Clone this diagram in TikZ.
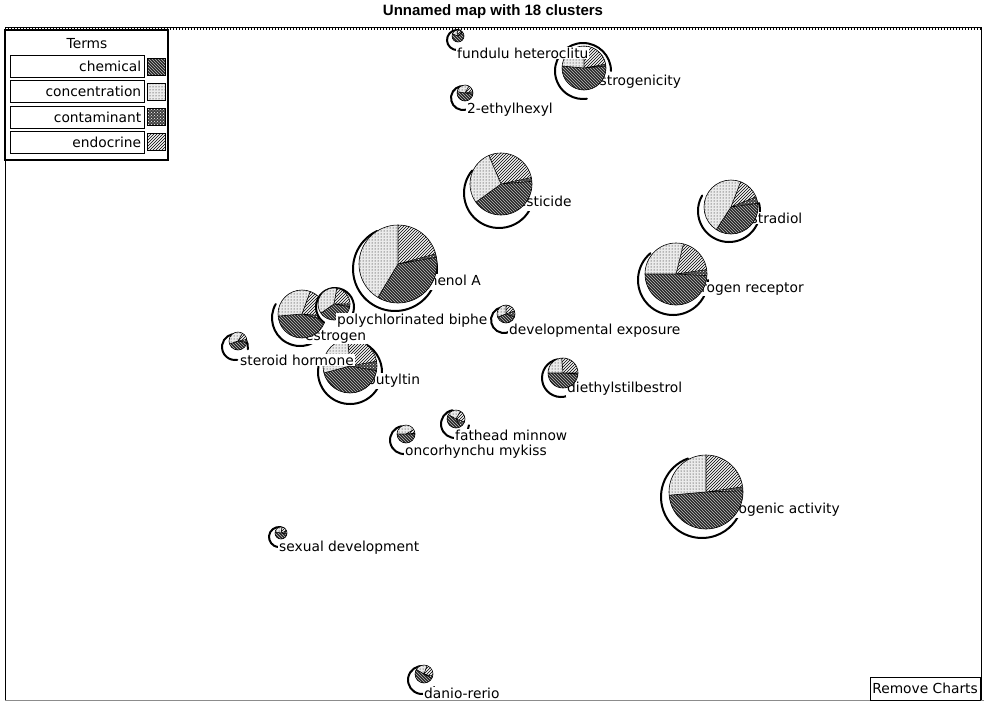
\documentclass[tikz,border=0pt]{standalone}
\usepackage{fontspec}
\setmainfont{DejaVu Sans}
\newfontfamily\titlefont{Liberation Sans}
\usetikzlibrary{patterns,positioning}

\newcommand{\mapfont}{\fontsize{13.8}{15}\selectfont}

% slices: concentration #4..#5, chemical #5..#6, contaminant #6..#7, endocrine #7..#4+360
\newcommand{\clusterpie}[7]{%
  \fill[concentration] (#1,#2) -- ++(#4:#3) arc[start angle=#4, end angle=#5, radius=#3] -- cycle;
  \fill[chemical] (#1,#2) -- ++(#5:#3) arc[start angle=#5, end angle=#6, radius=#3] -- cycle;
  \fill[contaminant] (#1,#2) -- ++(#6:#3) arc[start angle=#6, end angle=#7, radius=#3] -- cycle;
  \fill[endocrine] (#1,#2) -- ++(#7:#3) arc[start angle=#7, end angle=#4+360, radius=#3] -- cycle;
  \draw[pieline] (#1,#2) circle[radius=#3];
  \draw[pieline] (#1,#2) -- ++(#4:#3) (#1,#2) -- ++(#5:#3) (#1,#2) -- ++(#6:#3) (#1,#2) -- ++(#7:#3);
}
\newcommand{\clusterring}[5]{%
  \fill[white] (#1,#2) circle[radius=#3];
  \draw[ringline] (#1,#2) ++(#4:#3) arc[start angle=#4, end angle=#5, radius=#3];
}

\tikzset{
  chemical/.style={preaction={fill=black!85}, pattern=north west lines, pattern color=white!75!black},
  concentration/.style={preaction={fill=black!8}, pattern=dots, pattern color=black},
  contaminant/.style={preaction={fill=black!75}, pattern=crosshatch dots, pattern color=white},
  endocrine/.style={preaction={fill=black!5}, pattern=north east lines, pattern color=black},
  pieline/.style={black, line width=0.6pt},
  ringline/.style={black, line width=2pt, line cap=round},
  termlabel/.style={fill=white, inner sep=1pt, anchor=west, font=\mapfont},
  keybox/.style={draw, fill=white, minimum width=134pt, minimum height=22pt, text width=128pt, align=right, inner sep=2pt, font=\mapfont},
}

\begin{document}
\begin{tikzpicture}[x=1pt,y=1pt]
\useasboundingbox (0,0) rectangle (984,-702);
% frame of the map
\draw[black!45] (5,-700) -- (984,-700);
\draw (5,-27) -- (981,-27);
\draw[line width=1.5pt, dash pattern=on 1pt off 2pt] (5,-29) -- (981,-29);
\draw (5,-27) -- (5,-700);
\draw (981,-27) -- (981,-700);

% clusters
\clusterring{583}{-71}{28}{0}{278}
\node[termlabel] (estrogenicity) at (590,-82) {estrogenicity};
\clusterpie{584}{-68}{22}{90}{175}{365}{370}

\clusterring{457}{-40}{10}{70}{290}
\node[termlabel] (fundulu) at (456,-53) {fundulu heteroclitu};
\clusterpie{458}{-36}{6}{100}{160}{400}{410}

\clusterring{463}{-98}{12}{80}{290}
\node[termlabel] (ethylhexyl) at (466,-110) {2-ethylhexyl};
\clusterpie{465}{-93}{8}{60}{170}{350}{370}

\clusterring{499}{-193}{35}{140}{345}
\node[termlabel] (pesticide) at (508,-203) {pesticide};
\clusterpie{501}{-184}{31}{113}{216}{365}{372}

\clusterring{729}{-211}{31}{150}{375}
\node[termlabel] (estradiol) at (741,-218) {estradiol};
\clusterpie{731}{-207}{27}{69}{237}{368}{382}

\clusterring{673}{-280}{35}{130}{360}
\node[termlabel] (receptor) at (679,-289) {estrogen receptor};
\clusterpie{676}{-274}{31}{76}{180}{357}{368}

\clusterring{395}{-269}{42}{115}{375}
\node[termlabel] (bisphenol) at (399,-282) {bisphenol A};
\clusterpie{398}{-264}{39}{90}{239}{370}{375}

\clusterring{350}{-372}{32}{170}{420}
\node[termlabel] (tributyltin) at (351,-381) {tributyltin};
\clusterpie{350}{-366}{27}{95}{195}{350}{370}

\clusterring{300}{-318}{28}{150}{300}
\node[termlabel] (estrogen) at (304,-337) {estrogen};
\clusterpie{302}{-314}{24}{70}{185}{345}{355}

\clusterring{335}{-307}{19}{-25}{235}
\clusterpie{334}{-304}{16}{80}{215}{350}{360}
\node[termlabel] (pcb) at (336,-321) {polychlorinated biphe};

\clusterring{235}{-347}{13}{-10}{280}
\node[termlabel] (steroid) at (239,-360) {steroid hormone};
\clusterpie{238}{-341}{9}{60}{200}{350}{370}

\clusterring{504}{-320}{13}{80}{300}
\node[termlabel] (devexposure) at (508,-331) {developmental exposure};
\clusterpie{506}{-314}{9}{90}{200}{340}{380}

\clusterring{561}{-378}{19}{100}{310}
\node[termlabel] (stilbestrol) at (566,-389) {diethylstilbestrol};
\clusterpie{563}{-373}{15}{95}{180}{355}{360}

\clusterring{455}{-424}{14}{100}{355}
\node[termlabel] (fathead) at (454,-435) {fathead minnow};
\clusterpie{456}{-419}{9}{60}{150}{300}{340}

\clusterring{404}{-440}{14}{100}{340}
\node[termlabel] (oncorhynchu) at (404,-452) {oncorhynchu mykiss};
\clusterpie{406}{-434}{9}{30}{180}{360}{365}

\clusterring{702}{-497}{41}{110}{345}
\node[termlabel] (activity) at (711,-510) {estrogenic activity};
\clusterpie{706}{-492}{37}{90}{185}{362}{368}

\clusterring{279}{-537}{10}{60}{300}
\node[termlabel] (sexualdev) at (278,-548) {sexual development};
\clusterpie{281}{-533}{6}{80}{170}{350}{380}

\clusterring{422}{-680}{14}{80}{330}
\node[termlabel] (danio) at (423,-693) {danio-rerio};
\clusterpie{424}{-674}{9}{70}{150}{330}{345}

% legend
\draw[line width=2.5pt, fill=white] (5,-30) rectangle (168,-160);
\node[font=\mapfont] (termstitle) at (87,-44) {Terms};
\node[keybox, anchor=north west] (chemicalkey) at (10,-55) {chemical};
\node[keybox, below=3pt of chemicalkey] (concentrationkey) {concentration};
\node[keybox, below=3pt of concentrationkey] (contaminantkey) {contaminant};
\node[keybox, below=3pt of contaminantkey] (endocrinekey) {endocrine};
\draw[chemical] (147,-58) rectangle (165,-75);
\draw[concentration] (147,-83) rectangle (165,-100);
\draw[contaminant] (147,-108) rectangle (165,-125);
\draw[endocrine] (147,-133) rectangle (165,-150);

% title and button
\node[font=\titlefont\bfseries\fontsize{15}{17}\selectfont] (maptitle) at (493,-12) {Unnamed map with 18 clusters};
\node[draw, fill=white, anchor=south east, inner sep=2pt, minimum height=23pt, font=\mapfont] (removecharts) at (980,-700) {Remove Charts};
\end{tikzpicture}
\end{document}
